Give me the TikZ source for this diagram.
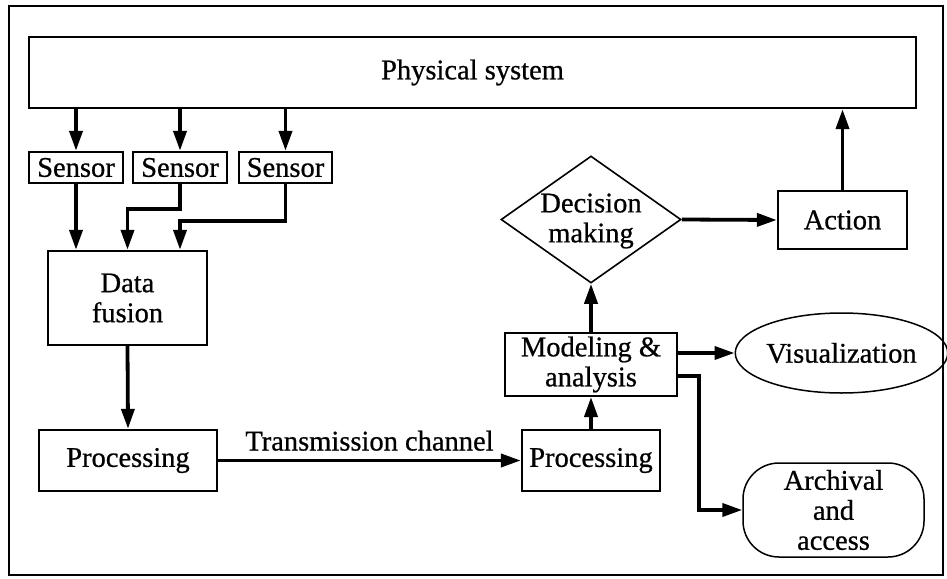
\documentclass[tikz,border=0pt]{standalone}
\usepackage{fontspec}
\setmainfont{Liberation Serif}[FakeBold=0.7]
\usetikzlibrary{arrows.meta,shapes.geometric}

\tikzset{
  txt/.style={font=\fontsize{28.5}{30}\selectfont, align=center, inner sep=0pt},
  boxed/.style={txt, draw, line width=2.4pt, rectangle},
  flow/.style={line width=3.8pt, -{Triangle[length=20pt,width=13pt]}},
}

\begin{document}
\begin{tikzpicture}[x=1pt,y=-1pt]
  \useasboundingbox (0,0) rectangle (947,578);
  % outer frame
  \draw[line width=2.8pt] (9,6) rectangle (943,575);

  % boxes
  \node[boxed, minimum width=887pt, minimum height=71pt] (phys) at (472.5,72.5) {Physical system};
  \node[boxed, minimum width=94pt, minimum height=31pt] (s1) at (76,167.5) {Sensor};
  \node[boxed, minimum width=94pt, minimum height=31pt] (s2) at (180,167.5) {Sensor};
  \node[boxed, minimum width=93pt, minimum height=31pt] (s3) at (285.5,167.5) {Sensor};
  \node[boxed, minimum width=159pt, minimum height=94pt] (fusion) at (127.5,298) {Data\\fusion};
  \node[boxed, minimum width=178pt, minimum height=61pt] (proc1) at (128,460.5) {Processing};
  \node[boxed, minimum width=138pt, minimum height=61pt] (proc2) at (591,460.5) {Processing};
  \node[boxed, line width=2pt, minimum width=172pt, minimum height=63pt] (model) at (591,364.5) {Modeling \&\\analysis};
  \node[draw, diamond, line width=1.6pt, inner sep=0pt, minimum width=180pt, minimum height=127pt] (dec) at (591,219.5) {};
  \node[txt] (dectext) at (591,221) {Decision\\making};
  \node[boxed, minimum width=129pt, minimum height=58pt] (action) at (842.5,220) {Action};
  \node[txt, draw, ellipse, line width=1.5pt, minimum width=189pt, minimum height=80pt] (vis) at (841.5,353) {Visualization};
  \node[txt, draw, rectangle, rounded corners=36pt, line width=1.5pt, minimum width=181pt, minimum height=94pt] (arch) at (833.5,510) {Archival\\and\\access};

  % sensing
  \draw[flow] (s1 |- phys.south) -- (s1.north);
  \draw[flow] (s2 |- phys.south) -- (s2.north);
  \draw[flow] (s3 |- phys.south) -- (s3.north);

  % fusion inputs
  \draw[flow] (s1.south) -- (s1 |- fusion.north);
  \draw[flow] (s2.south) -- ++(0,25) -| (fusion.north);
  \draw[flow] (s3.south) -- ++(0,37) -| ([xshift=52.5pt]fusion.north);

  % processing chain
  \draw[flow] (fusion.south) -- (proc1.north);
  \draw[flow] (proc1.east) -- (proc2.west)
    node[midway, txt, anchor=base, yshift=10pt] (chan) {Transmission channel};
  \draw[flow] (proc2.north) -- (model.south);
  \draw[flow] (model.north) -- (dec.south);
  \draw[flow] (dec.east) -- (action.west);
  \draw[flow] (action.north) -- (action |- phys.south);

  % outputs
  \draw[flow] (vis.west -| model.east) -- (vis.west);
  \draw[flow] ([yshift=-11.5pt]model.east) -- ++(21,0) |- (arch.west);
\end{tikzpicture}
\end{document}
